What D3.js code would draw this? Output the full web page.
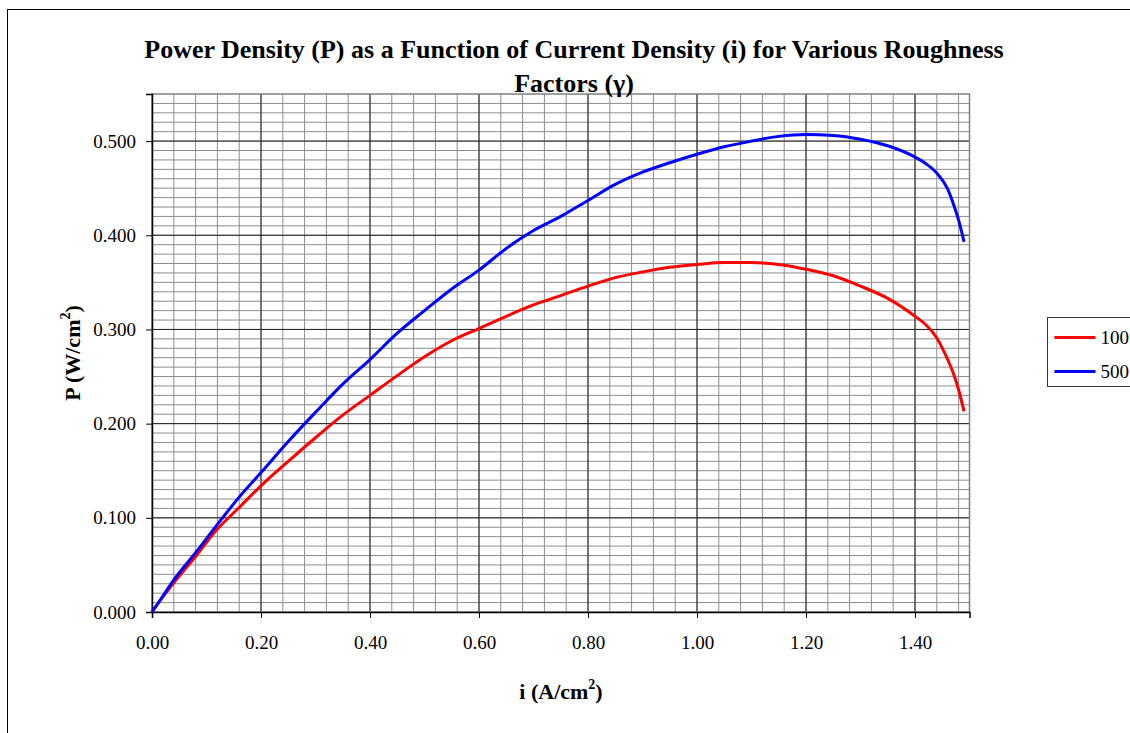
<!DOCTYPE html>
<html lang="en">
<head>
    <meta charset="UTF-8">
    <title>Power Density vs Current Density</title>
    <style>
        body { margin: 0; background: #fff; }
        svg { font-family: "Liberation Serif", "Times New Roman", serif; }
    </style>
</head>
<body>
    <script src="https://d3js.org/d3.v7.min.js"></script>
    <script>
        // current density i (A/cm2)
        const current = [0, 0.02, 0.04, 0.08, 0.12, 0.16, 0.20, 0.25, 0.30, 0.35, 0.40, 0.45, 0.50, 0.55,
            0.60, 0.65, 0.70, 0.75, 0.80, 0.85, 0.90, 0.95, 1.00, 1.05, 1.10, 1.15, 1.20, 1.25, 1.30,
            1.35, 1.40, 1.42, 1.44, 1.46, 1.47, 1.48, 1.49];
        // power density P (W/cm2), roughness factor 100
        const p100 = [0, 0.016, 0.031, 0.059, 0.088, 0.111, 0.134, 0.160, 0.185, 0.209, 0.230, 0.251, 0.271, 0.288,
            0.301, 0.314, 0.326, 0.336, 0.346, 0.355, 0.361, 0.366, 0.369, 0.371, 0.371, 0.369, 0.364, 0.357, 0.346,
            0.333, 0.314, 0.305, 0.291, 0.268, 0.254, 0.236, 0.213];
        // roughness factor 500
        const p500 = [0, 0.017, 0.034, 0.063, 0.093, 0.122, 0.148, 0.181, 0.212, 0.242, 0.268, 0.296, 0.320, 0.343,
            0.363, 0.386, 0.405, 0.420, 0.437, 0.454, 0.467, 0.477, 0.486, 0.494, 0.500, 0.505, 0.507, 0.506, 0.502,
            0.495, 0.483, 0.476, 0.466, 0.449, 0.434, 0.416, 0.393];
        const seriesNames = ["100", "500"];
        const seriesColors = ["#ff0000", "#0000ff"];
        const xTicks = [0, 0.2, 0.4, 0.6, 0.8, 1.0, 1.2, 1.4];
        const yTicks = [0, 0.1, 0.2, 0.3, 0.4, 0.5];

        const W = 1130, H = 733;
        const plotL = 152, plotR = 969.5, plotT = 94, plotB = 612;

        const svg = d3.select("body").append("svg")
            .attr("width", W).attr("height", H);

        // outer chart frame (right/bottom run off the picture)
        svg.append("rect")
            .attr("x", 7.5).attr("y", 9.5)
            .attr("width", W + 20).attr("height", H + 20)
            .attr("fill", "#fff").attr("stroke", "#000");

        const x = d3.scaleLinear().domain([0, 1.5]).range([plotL, plotR]);
        const y = d3.scaleLinear().domain([0, 0.55]).range([plotB, plotT]);

        // minor grid
        const grid = svg.append("g");
        grid.selectAll(".vminor").data(d3.range(1, 38).map(k => k * 0.04).filter(v => v < 1.5))
            .enter().append("line")
            .attr("x1", d => x(d)).attr("x2", d => x(d))
            .attr("y1", plotT).attr("y2", plotB)
            .attr("stroke", "#8c8c8c").attr("stroke-width", 1);
        grid.selectAll(".hminor").data(d3.range(1, 55).map(k => k * 0.01))
            .enter().append("line")
            .attr("x1", plotL).attr("x2", plotR)
            .attr("y1", d => y(d)).attr("y2", d => y(d))
            .attr("stroke", "#8c8c8c").attr("stroke-width", 1);
        // major grid
        grid.selectAll(".vmajor").data(xTicks.slice(1))
            .enter().append("line")
            .attr("x1", d => x(d)).attr("x2", d => x(d))
            .attr("y1", plotT).attr("y2", plotB)
            .attr("stroke", "#222").attr("stroke-width", 1);
        grid.selectAll(".hmajor").data(yTicks.slice(1))
            .enter().append("line")
            .attr("x1", plotL).attr("x2", plotR)
            .attr("y1", d => y(d)).attr("y2", d => y(d))
            .attr("stroke", "#222").attr("stroke-width", 1);

        // plot border
        svg.append("rect")
            .attr("x", plotL).attr("y", plotT)
            .attr("width", plotR - plotL).attr("height", plotB - plotT)
            .attr("fill", "none").attr("stroke", "#808080").attr("stroke-width", 1.5);

        // axes
        const xAxis = svg.append("g")
            .attr("transform", `translate(0,${plotB})`)
            .call(d3.axisBottom(x).tickValues(xTicks).tickFormat(d3.format(".2f")).tickSize(6).tickPadding(18));
        xAxis.select(".domain").attr("stroke", "#000").attr("stroke-width", 1.5);

        const yAxis = svg.append("g")
            .attr("transform", `translate(${plotL},0)`)
            .call(d3.axisLeft(y).tickValues(yTicks).tickFormat(d3.format(".3f")).tickSize(6).tickPadding(10));
        yAxis.select(".domain").attr("stroke", "#000").attr("stroke-width", 1.5);
        svg.selectAll(".tick text")
            .attr("font-family", "Liberation Serif, serif")
            .attr("font-size", 19).attr("fill", "#000");

        // series
        const line = d3.line().x((d, i) => x(current[i])).y(d => y(d)).curve(d3.curveMonotoneX);
        [p100, p500].forEach((vals, k) => {
            svg.append("path")
                .datum(vals)
                .attr("d", line)
                .attr("fill", "none")
                .attr("stroke", seriesColors[k])
                .attr("stroke-width", 3)
                .attr("stroke-linejoin", "round");
        });

        // title
        const title = svg.append("text")
            .attr("text-anchor", "middle")
            .attr("font-weight", "bold").attr("font-size", 26);
        title.append("tspan").attr("x", 574).attr("y", 58)
            .text("Power Density (P) as a Function of Current Density (i) for Various Roughness");
        title.append("tspan").attr("x", 574).attr("y", 92).text("Factors (γ)");

        // axis titles
        const xl = svg.append("text")
            .attr("x", 561).attr("y", 699)
            .attr("text-anchor", "middle")
            .attr("font-weight", "bold").attr("font-size", 22);
        xl.append("tspan").text("i (A/cm");
        xl.append("tspan").attr("font-size", 14).attr("dy", -10).text("2");
        xl.append("tspan").attr("dy", 10).text(")");

        const yl = svg.append("text")
            .attr("transform", `translate(80,${(plotT + plotB) / 2}) rotate(-90)`)
            .attr("text-anchor", "middle")
            .attr("font-weight", "bold").attr("font-size", 22);
        yl.append("tspan").text("P (W/cm");
        yl.append("tspan").attr("font-size", 14).attr("dy", -10).text("2");
        yl.append("tspan").attr("dy", 10).text(")");

        // legend
        const lg = svg.append("g").attr("transform", "translate(1047.5,317.5)");
        lg.append("rect").attr("width", 120).attr("height", 69)
            .attr("fill", "#fff").attr("stroke", "#333");
        seriesNames.forEach((name, k) => {
            const ly = 20 + k * 34;
            lg.append("line").attr("x1", 7).attr("x2", 48).attr("y1", ly).attr("y2", ly)
                .attr("stroke", seriesColors[k]).attr("stroke-width", 3);
            lg.append("text").attr("x", 53).attr("y", ly + 6)
                .attr("font-size", 19).text(name);
        });
    </script>
</body>
</html>
